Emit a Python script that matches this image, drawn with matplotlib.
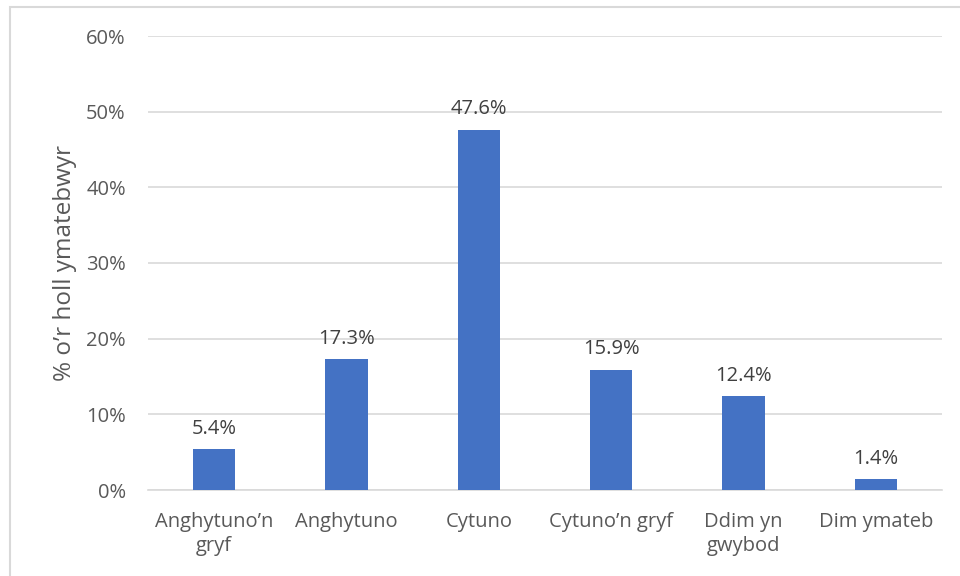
import matplotlib
matplotlib.use("Agg")
import matplotlib.pyplot as plt
from matplotlib.patches import Rectangle
from matplotlib.ticker import FuncFormatter

categories = ["Anghytuno’n\ngryf", "Anghytuno", "Cytuno", "Cytuno’n gryf", "Ddim yn\ngwybod", "Dim ymateb"]
values = [5.4, 17.3, 47.6, 15.9, 12.4, 1.4]
yticks = [0, 10, 20, 30, 40, 50, 60]
ylabel = "% o’r holl ymatebwyr"

plt.rcParams['font.family'] = ['Open Sans', 'DejaVu Sans']

W, H = 960, 576
fig = plt.figure(figsize=(W / 100, H / 100), dpi=100)
ax = fig.add_axes([148 / W, 1 - 490 / H, (942 - 148) / W, (490 - 36) / H])

# outer chart border
fig.patches.append(Rectangle((10 / W, -0.1), 1.2, 1 - 7 / H + 0.1, transform=fig.transFigure,
                             fill=False, edgecolor="#D9D9D9", linewidth=1.5))

FS = 14.5
x = list(range(len(categories)))
ax.bar(x, values, width=0.32, color="#4472C4", zorder=3)
for xi, v in zip(x, values):
    ax.text(xi, v + 1.4, f"{v:.1f}%", ha="center", va="bottom", fontsize=FS, color="#404040")

ax.set_xlim(-0.5, len(categories) - 0.5)
ax.set_ylim(0, 60)
ax.set_yticks(yticks)
ax.yaxis.set_major_formatter(FuncFormatter(lambda v, p: f"{v:.0f}%"))
ax.grid(axis="y", color="#D9D9D9", linewidth=1.2, zorder=0)
ax.set_xticks(x)
ax.set_xticklabels(categories, fontsize=FS, color="#595959", linespacing=1.25)
ax.tick_params(axis="y", labelsize=FS, labelcolor="#595959", length=0, pad=16)
ax.tick_params(axis="x", length=0, pad=16)
for s in ["top", "right", "left"]:
    ax.spines[s].set_visible(False)
ax.spines["bottom"].set_color("#D9D9D9")
ax.spines["bottom"].set_linewidth(1.2)
ax.set_ylabel(ylabel, fontsize=17.5, color="#595959")
ax.yaxis.set_label_coords(-0.09, 0.5)

fig.savefig("out.png", dpi=100)
